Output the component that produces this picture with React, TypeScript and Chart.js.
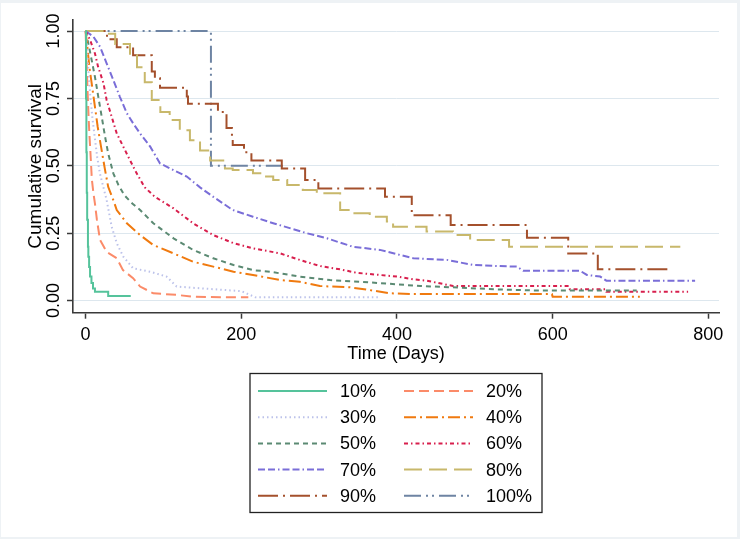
import React, { useEffect, useRef } from 'react';
import { Chart, registerables } from 'chart.js';

Chart.register(...registerables);

// ---------- data ----------
const seriesLabels = ['10%', '20%', '30%', '40%', '50%', '60%', '70%', '80%', '90%', '100%'];
const xTickValues = [0, 200, 400, 600, 800];
const xTickLabels = ['0', '200', '400', '600', '800'];
const yTickValues = [0, 0.25, 0.5, 0.75, 1];
const yTickLabels = ['0.00', '0.25', '0.50', '0.75', '1.00'];

const t10 = [0, 0.5, 1, 1.5, 2, 3, 3.5, 4.5, 5.7, 7.5, 9.5, 12, 29, 58];
const s10 = [1, 0.75, 0.55, 0.4, 0.3, 0.2, 0.163, 0.125, 0.089, 0.065, 0.045, 0.033, 0.017, 0.017];

const t20 = [0, 1, 2, 3, 4, 5, 6, 8, 10, 12, 14.5, 18.5, 27, 40, 48, 61, 70, 87, 117, 138, 190, 209];
const s20 = [1, 0.9, 0.82, 0.74, 0.67, 0.61, 0.56, 0.45, 0.4, 0.36, 0.3, 0.225, 0.181, 0.157, 0.113, 0.083, 0.052, 0.027, 0.021, 0.0145, 0.012, 0.012];

const t30 = [0, 2, 4, 6, 9, 12, 15, 18.5, 27, 33.5, 40, 48.4, 61, 83, 104, 117, 150, 200, 212, 218, 378];
const s30 = [1, 0.92, 0.84, 0.76, 0.67, 0.6, 0.53, 0.47, 0.373, 0.274, 0.213, 0.163, 0.12, 0.107, 0.089, 0.052, 0.045, 0.035, 0.02, 0.012, 0.012];

const t40 = [0, 2.2, 4.8, 7.8, 12, 15.5, 19.8, 25, 29, 35.6, 40, 53, 70, 87, 113, 138, 164, 190, 215, 250, 275, 301, 340, 365, 391, 421, 599, 600, 712];
const s40 = [1, 0.942, 0.868, 0.806, 0.719, 0.645, 0.571, 0.484, 0.422, 0.373, 0.336, 0.287, 0.243, 0.206, 0.175, 0.144, 0.126, 0.107, 0.095, 0.076, 0.07, 0.054, 0.049, 0.039, 0.027, 0.024, 0.024, 0.0145, 0.0145];

const t50 = [0, 3.5, 7.8, 12, 16.3, 20.7, 25, 29, 35.6, 42, 50, 60, 70, 87, 113, 138, 164, 190, 215, 237, 275, 314, 352, 391, 430, 472, 532, 584, 708];
const s50 = [1, 0.954, 0.892, 0.83, 0.756, 0.682, 0.608, 0.546, 0.472, 0.43, 0.39, 0.36, 0.336, 0.287, 0.231, 0.188, 0.157, 0.132, 0.113, 0.107, 0.089, 0.076, 0.07, 0.062, 0.054, 0.049, 0.041, 0.037, 0.037];

const t60 = [0, 5.7, 12, 16, 23, 27, 33.5, 40, 48.4, 57, 65.6, 76, 89, 113, 138, 164, 190, 215, 250, 275, 301, 327, 348, 378, 400, 421, 438, 472, 621, 622, 668, 669, 774];
const s60 = [1, 0.967, 0.917, 0.868, 0.806, 0.744, 0.682, 0.62, 0.571, 0.521, 0.472, 0.42, 0.385, 0.342, 0.287, 0.243, 0.213, 0.194, 0.175, 0.151, 0.128, 0.116, 0.103, 0.095, 0.089, 0.079, 0.074, 0.054, 0.054, 0.042, 0.042, 0.033, 0.033];

const t70 = [0, 10, 18.5, 27, 35.6, 44, 53, 61, 70, 83, 95.6, 113, 130, 147, 164, 189, 215, 241, 284, 310, 343, 378, 421, 464, 498, 532, 554, 562, 635, 644, 661, 669, 783];
const s70 = [1, 0.979, 0.942, 0.88, 0.818, 0.756, 0.695, 0.658, 0.62, 0.571, 0.509, 0.484, 0.46, 0.42, 0.385, 0.336, 0.311, 0.287, 0.25, 0.231, 0.2, 0.188, 0.157, 0.151, 0.132, 0.128, 0.126, 0.111, 0.111, 0.095, 0.089, 0.074, 0.074];

const t80 = [0, 25, 38, 57, 66, 76, 85, 96, 108, 121, 134, 147, 160, 179, 189, 215, 228, 241, 259, 279, 297, 327, 340, 365, 387, 395, 438, 472, 494, 544, 764];
const s80 = [1, 0.99, 0.952, 0.911, 0.866, 0.81, 0.744, 0.7, 0.67, 0.632, 0.595, 0.557, 0.52, 0.49, 0.484, 0.472, 0.46, 0.447, 0.429, 0.41, 0.398, 0.336, 0.324, 0.311, 0.293, 0.274, 0.256, 0.243, 0.225, 0.2, 0.2];

const t90 = [0, 27.5, 40, 61, 85, 89, 95.6, 130, 131.5, 170, 181, 188, 189, 203.5, 213, 252, 282, 299, 384.6, 419, 469, 567, 620, 658, 753];
const s90 = [1, 0.97, 0.94, 0.91, 0.85, 0.825, 0.79, 0.757, 0.73, 0.7, 0.64, 0.61, 0.577, 0.55, 0.52, 0.49, 0.447, 0.416, 0.385, 0.317, 0.28, 0.233, 0.175, 0.116, 0.116];

const t100 = [0, 161, 258];
const s100 = [1, 0.5, 0.5];

const seriesTimes = [t10, t20, t30, t40, t50, t60, t70, t80, t90, t100];
const seriesSurv = [s10, s20, s30, s40, s50, s60, s70, s80, s90, s100];

// ---------- styles ----------
const colors = ['#55c39b', '#fb8b69', '#bcc2ea', '#f07a0f', '#5b8a73', '#d81f4d', '#7a6ed8', '#c8b86b', '#a4502c', '#6e84a3'];
const dashes: number[][] = [
  [],
  [10, 5],
  [1.5, 3],
  [12, 4, 2, 4],
  [5, 4],
  [4, 3, 1.5, 3],
  [7, 3, 7, 3, 1.5, 3],
  [18, 7],
  [20, 5, 2, 5],
  [17, 5, 2, 4, 2, 5],
];
const steppedFlags = [true, false, false, false, false, false, false, true, true, true];

const FONT = { family: '"Liberation Sans", Arial, sans-serif', size: 18 };
const TITLE_FONT = { family: '"Liberation Sans", Arial, sans-serif', size: 19 };

const bgPlugin = {
  id: 'frameBg',
  beforeDraw(chart: any) {
    const { ctx, width, height } = chart;
    ctx.save();
    ctx.fillStyle = '#eef2f5';
    ctx.fillRect(0, 0, width, height);
    ctx.fillStyle = '#ffffff';
    ctx.fillRect(1, 3, width - 4, height - 5);
    ctx.restore();
  },
};

const legendPlugin = {
  id: 'boxLegend',
  afterDraw(chart: any) {
    const { ctx, chartArea } = chart;
    const xScale = chart.scales.x;
    const cx = (chartArea.left + chartArea.right) / 2;
    const w = 292;
    const left = cx - w / 2;
    const top = xScale.bottom + 9;
    const rowH = 26.2;
    const h = 139;
    ctx.save();
    ctx.lineWidth = 1.3;
    ctx.strokeStyle = '#222';
    ctx.setLineDash([]);
    ctx.strokeRect(left, top, w, h);
    ctx.font = `${FONT.size}px ${FONT.family}`;
    ctx.textBaseline = 'middle';
    ctx.textAlign = 'left';
    chart.data.datasets.forEach((ds: any, i: number) => {
      const col = i % 2;
      const row = Math.floor(i / 2);
      const x0 = left + 8 + col * 146;
      const y = top + 17.5 + row * rowH;
      ctx.save();
      ctx.strokeStyle = ds.borderColor;
      ctx.lineWidth = ds.borderWidth;
      ctx.setLineDash(ds.borderDash || []);
      ctx.beginPath();
      ctx.moveTo(x0, y);
      ctx.lineTo(x0 + 69, y);
      ctx.stroke();
      ctx.restore();
      ctx.fillStyle = '#000';
      ctx.fillText(ds.label, x0 + 82, y + 1);
    });
    ctx.restore();
  },
};

export default function App() {
  const ref = useRef<HTMLCanvasElement>(null);

  useEffect(() => {
    document.body.style.margin = '0';
    const canvas = ref.current;
    if (!canvas) return;
    const datasets = seriesLabels.map((label, i) => ({
      label,
      data: seriesTimes[i].map((t, j) => ({ x: t, y: seriesSurv[i][j] })),
      borderColor: colors[i],
      backgroundColor: colors[i],
      borderWidth: 2,
      borderDash: dashes[i],
      pointRadius: 0,
      fill: false,
      tension: 0,
      stepped: steppedFlags[i] ? 'before' : false,
    }));

    const chart = new Chart(canvas, {
      type: 'line',
      data: { datasets } as any,
      options: {
        animation: false,
        responsive: false,
        events: [],
        layout: { padding: { left: 0, top: 20, right: 21, bottom: 174.5 } },
        plugins: { legend: { display: false }, tooltip: { enabled: false } },
        scales: {
          x: {
            type: 'linear',
            min: -16.2,
            max: 813.7,
            afterBuildTicks: (s: any) => {
              s.ticks = xTickValues.map((v) => ({ value: v }));
            },
            afterFit: (s: any) => {
              s.height = 51.8;
            },
            ticks: {
              font: FONT,
              color: '#000',
              padding: 5.5,
              maxRotation: 0,
              autoSkip: false,
              callback: (_v: any, i: number) => xTickLabels[i],
            },
            grid: { drawOnChartArea: false, tickLength: 6, tickColor: '#3a3a3a', tickWidth: 1.5 },
            border: { color: '#3a3a3a', width: 1.6 },
            title: { display: true, text: 'Time (Days)', font: FONT, color: '#000', padding: { top: 0, bottom: 0 } },
          },
          y: {
            type: 'linear',
            min: -0.045,
            max: 1.041,
            afterBuildTicks: (s: any) => {
              s.ticks = yTickValues.map((v) => ({ value: v }));
            },
            afterFit: (s: any) => {
              s.width = 73;
            },
            ticks: {
              font: FONT,
              color: '#000',
              padding: -5,
              minRotation: 90,
              maxRotation: 90,
              crossAlign: 'center',
              autoSkip: false,
              callback: (_v: any, i: number) => yTickLabels[i],
            },
            grid: { color: '#dde7ee', lineWidth: 1, tickLength: 6, tickColor: '#3a3a3a', tickWidth: 1.5 },
            border: { color: '#3a3a3a', width: 1.6 },
            title: { display: true, text: 'Cumulative survival', font: TITLE_FONT, color: '#000', padding: { top: 24.5, bottom: 0 } },
          },
        },
      } as any,
      plugins: [bgPlugin, legendPlugin],
    });
    return () => chart.destroy();
  }, []);

  return <canvas ref={ref} width={740} height={539} style={{ display: 'block' }} />;
}
